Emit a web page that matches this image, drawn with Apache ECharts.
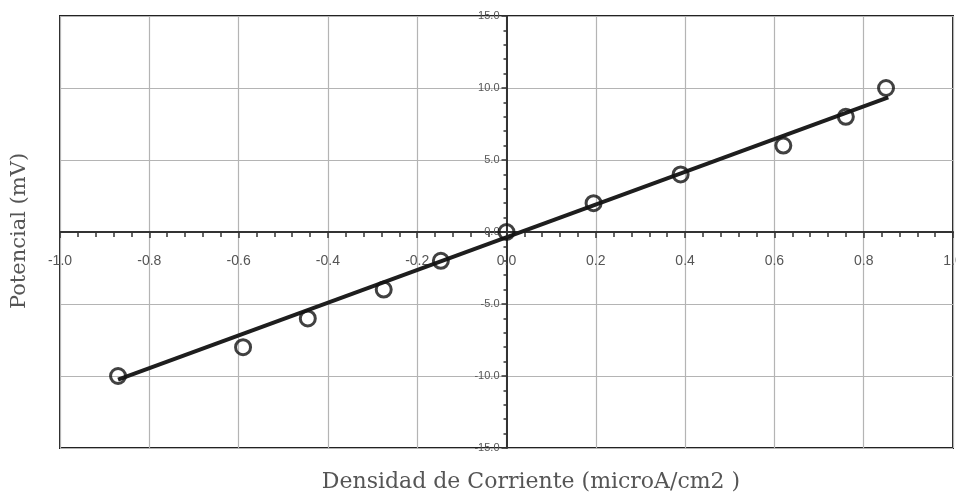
<!DOCTYPE html>
<html>
<head>
<meta charset="utf-8">
<script src="https://cdn.jsdelivr.net/npm/echarts@6/dist/echarts.min.js"></script>
<style>
  html, body { margin: 0; padding: 0; background: #fff; }
  #chart { width: 956px; height: 497px; }
</style>
</head>
<body>
<div id="chart"></div>
<script>
// datos medidos
const currentDensity = [-0.87, -0.59, -0.445, -0.275, -0.147, 0, 0.195, 0.39, 0.62, 0.76, 0.85]
const potential = [-10, -8, -6, -4, -2, 0, 2, 4, 6, 8, 10]

// recta de ajuste
const fitX = [-0.87, 0.855]
const fitY = [-10.25, 9.35]

const xTitle = 'Densidad de Corriente (microA/cm2 )'
const yTitle = 'Potencial (mV)'

// area del grafico
const W = 956, H = 497
const gLeft = 60, gRight = 3, gTop = 16, gBottom = 49
const xMin = -1, xMax = 1, yMin = -15, yMax = 15
const gW = W - gLeft - gRight
const gH = H - gTop - gBottom
// ejes cruzando en el cero
const xAxisOffset = -gH * (0 - yMin) / (yMax - yMin)
const yAxisOffset = -gW * (0 - xMin) / (xMax - xMin)

const chart = echarts.init(document.getElementById('chart'))

const tickFont = { color: '#555', fontFamily: 'Liberation Sans, Arial, sans-serif' }

const option = {
  animation: false,
  grid: {
    show: true,
    left: gLeft,
    right: gRight,
    top: gTop,
    bottom: gBottom,
    outerBoundsMode: 'none',
    containLabel: false,
    borderColor: '#222',
    borderWidth: 2,
    backgroundColor: '#fff'
  },
  xAxis: {
    type: 'value',
    position: 'bottom',
    offset: xAxisOffset,
    min: xMin,
    max: xMax,
    interval: 0.2,
    axisLine: { onZero: false, lineStyle: { color: '#333', width: 2 } },
    axisTick: { show: true, length: 6, lineStyle: { color: '#333', width: 1.5 } },
    minorTick: { show: true, splitNumber: 5, length: 5, lineStyle: { color: '#333', width: 1.5 } },
    splitLine: { show: true, lineStyle: { color: '#b4b4b4', width: 1.2 } },
    axisLabel: {
      ...tickFont,
      fontSize: 14,
      margin: 22,
      showMinLabel: true,
      showMaxLabel: true,
      hideOverlap: false,
      formatter: v => v.toFixed(1)
    }
  },
  yAxis: {
    type: 'value',
    position: 'left',
    offset: yAxisOffset,
    min: yMin,
    max: yMax,
    interval: 5,
    axisLine: { onZero: false, lineStyle: { color: '#333', width: 2 } },
    axisTick: { show: true, length: 5, lineStyle: { color: '#333', width: 1.5 } },
    minorTick: { show: true, splitNumber: 5, length: 3, lineStyle: { color: '#333', width: 1.5 } },
    splitLine: { show: true, lineStyle: { color: '#b4b4b4', width: 1.2 } },
    axisLabel: {
      ...tickFont,
      fontSize: 11,
      margin: 7,
      showMinLabel: true,
      showMaxLabel: true,
      formatter: v => v.toFixed(1)
    }
  },
  graphic: [
    {
      type: 'text',
      x: 531,
      y: 482,
      style: {
        text: xTitle,
        fill: '#555',
        font: '22px "DejaVu Serif", serif',
        align: 'center',
        verticalAlign: 'middle'
      }
    },
    {
      type: 'text',
      x: 20,
      y: 231,
      rotation: Math.PI / 2,
      style: {
        text: yTitle,
        fill: '#555',
        font: '21px "DejaVu Serif", serif',
        align: 'center',
        verticalAlign: 'middle'
      }
    }
  ],
  series: [
    {
      type: 'line',
      data: fitX.map((x, i) => [x, fitY[i]]),
      symbol: 'none',
      lineStyle: { color: '#1e1e1e', width: 4 },
      z: 3
    },
    {
      type: 'scatter',
      data: currentDensity.map((x, i) => [x, potential[i]]),
      symbol: 'circle',
      symbolSize: 15,
      itemStyle: { color: 'rgba(255,255,255,0)', borderColor: '#111', borderWidth: 3 },
      z: 4
    }
  ]
}

chart.setOption(option)
</script>
</body>
</html>
